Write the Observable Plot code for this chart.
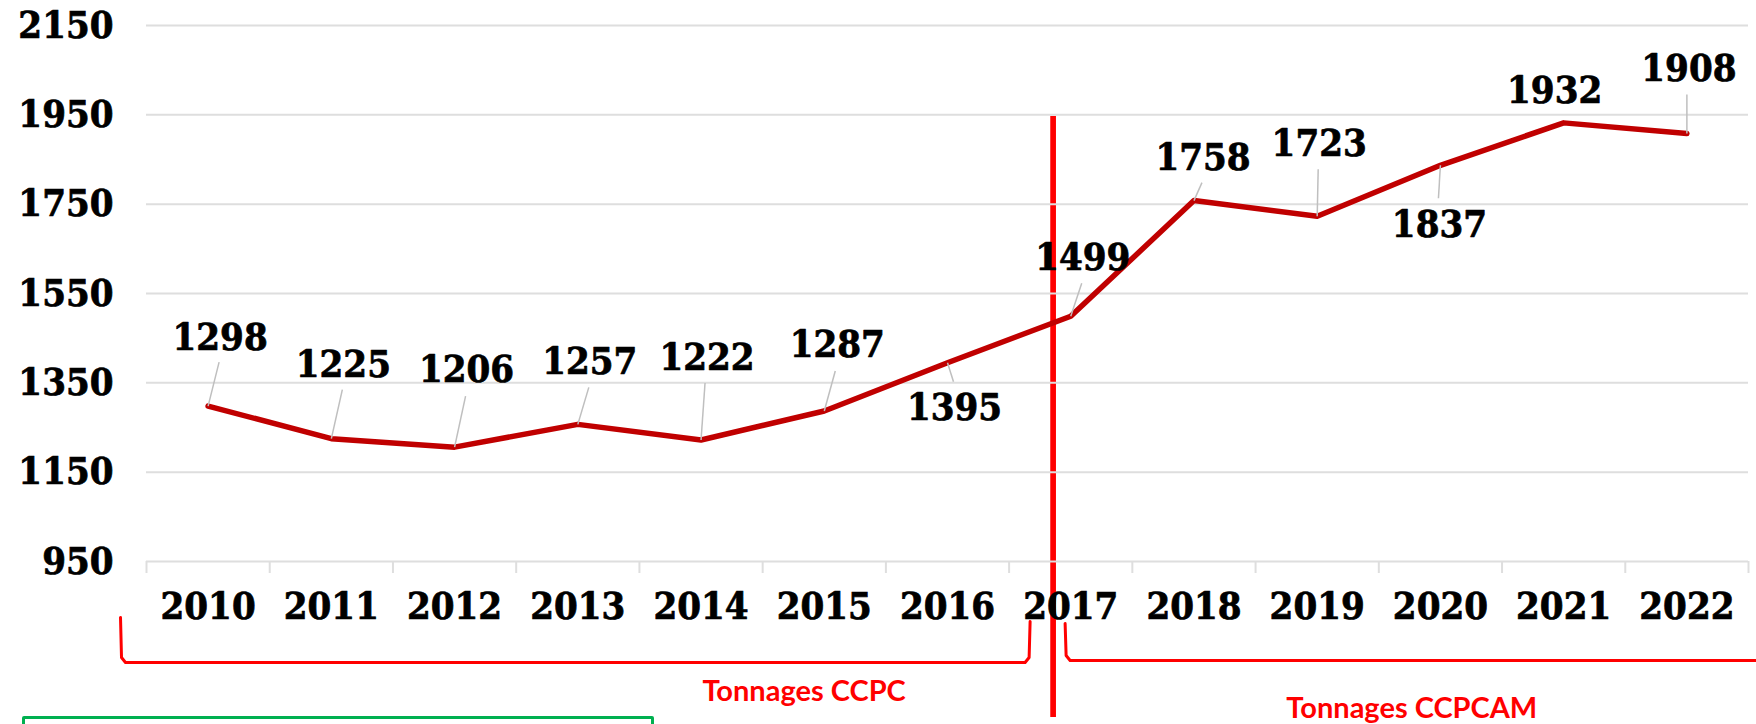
<!DOCTYPE html>
<html>
<head>
<meta charset="utf-8">
<script src="https://cdn.jsdelivr.net/npm/d3@7"></script>
<script src="https://cdn.jsdelivr.net/npm/@observablehq/plot@0.6"></script>
<style>
html, body { margin: 0; padding: 0; background: #fff; overflow: hidden; width: 1756px; height: 724px; }
#chart { position: absolute; left: 0; top: 0; }
#box { position: absolute; left: 22px; top: 716px; width: 626px; height: 40px; border: 3px solid #00B050; border-radius: 2px; }
#chart svg text { font-stretch: condensed; }
#chart svg g[aria-label$="tick label"] text { stroke: #000; stroke-width: 0.7px; }
</style>
</head>
<body>
<div id="chart"></div>
<div id="box"></div>
<script>
// ---- data ----
const years = [2010, 2011, 2012, 2013, 2014, 2015, 2016, 2017, 2018, 2019, 2020, 2021, 2022];
const values = [1298, 1225, 1206, 1257, 1222, 1287, 1395, 1499, 1758, 1723, 1837, 1932, 1908];
const yTicks = [950, 1150, 1350, 1550, 1750, 1950, 2150];
const groupLabels = ["Tonnages CCPC", "Tonnages CCPCAM"];

// ---- layout (pixel offsets for labels and leader lines) ----
const labelDx = [12, 12, 12, 12, 6, 13, 7, 12, 9, 2, -1, -9, 2];
const labelDy = [-68, -74, -77, -63, -82, -66, 45, -58, -43, -72, 60, -32, -65];
const leaderDx = [11, 11, 11, 11, 4, 11, 6, 11, 8, 1, -2, 0, 0];
const leaderDy = [-44, -49, -51, -37, -57, -40, 19, -33, -18, -47, 33, 0, -39];

const W = 1756, H = 724, ML = 146, MR = 8, MT = 25, MB = 163;
const X0 = 2009.5, X1 = 2022.5, Y0 = 950, Y1 = 2150;
const pxX = (W - ML - MR) / (X1 - X0);
const pxY = (H - MT - MB) / (Y1 - Y0);
const below = p => Y0 - p / pxY;          // value that sits p px below the axis
const xs = (yr, p) => yr + p / pxX;       // year shifted by p px

const data = years.map((year, i) => ({
  year, value: values[i],
  lx: xs(year, labelDx[i]), ly: values[i] - labelDy[i] / pxY,
  kx: xs(year, leaderDx[i]), ky: values[i] - leaderDy[i] / pxY,
  leader: leaderDx[i] !== 0 || leaderDy[i] !== 0
}));

const boundaries = d3.range(X0, X1 + 0.01, 1);
const dividerYear = xs(2016.5, 44);

// brackets under the axis
function bracket(g, xa, xb, topA, topB, bottom, openRight) {
  const pts = [
    {g, x: xa, y: below(topA)},
    {g, x: xs(xa, 1), y: below(bottom - 5)},
    {g, x: xs(xa, 5), y: below(bottom)}
  ];
  if (openRight) {
    pts.push({g, x: xs(X1, 20), y: below(bottom)});
  } else {
    pts.push({g, x: xs(xb, -5), y: below(bottom)});
    pts.push({g, x: xs(xb, -1), y: below(bottom - 5)});
    pts.push({g, x: xb, y: below(topB)});
  }
  return pts;
}
const bracketPts = [
  ...bracket(groupLabels[0], xs(2009.5, -26), xs(2016.5, 21), 56, 60, 101, false),
  ...bracket(groupLabels[1], xs(2016.5, 56), null, 62, 0, 99, true)
];
const groupText = [
  {text: groupLabels[0], x: xs(2016.5, -205), y: below(130)},
  {text: groupLabels[1], x: xs(2019.5, 33), y: below(147)}
];

const serif = "DejaVu Serif Condensed, DejaVu Serif";
const FS = 38;
const plot = Plot.plot({
  width: W, height: H,
  marginLeft: ML, marginRight: MR, marginTop: MT, marginBottom: MB,
  x: {type: "linear", domain: [X0, X1]},
  y: {type: "linear", domain: [Y0, Y1]},
  style: {fontFamily: serif, fontSize: FS + "px", fontWeight: "bold", color: "#000", background: "#fff", overflow: "visible"},
  marks: [
    Plot.ruleX([dividerYear], {x: d => d, y1: 1946, y2: below(156), stroke: "#ff0000", strokeWidth: 5.7}),
    Plot.gridY(yTicks, {stroke: "#dedede", strokeOpacity: 1, strokeWidth: 2}),
    Plot.ruleX(boundaries, {x: d => d, y1: Y0, y2: below(12), stroke: "#dedede", strokeWidth: 2}),
    Plot.line(data, {x: "year", y: "value", stroke: "#c00000", strokeWidth: 5.5, strokeLinejoin: "round", strokeLinecap: "round"}),
    Plot.link(data.filter(d => d.leader), {x1: "year", y1: "value", x2: "kx", y2: "ky", stroke: "#bfbfbf", strokeWidth: 1.5}),
    Plot.text(data, {x: "lx", y: "ly", text: d => String(d.value), fontFamily: serif, fontSize: FS, fontWeight: "bold", fill: "#000", stroke: "#000", strokeWidth: 0.7}),
    Plot.axisY({ticks: yTicks, tickFormat: d => String(d), tickSize: 0, tickPadding: 33, fontFamily: serif, fontSize: FS, fontWeight: "bold", label: null}),
    Plot.axisX({ticks: years, tickFormat: d => String(d), tickSize: 0, tickPadding: 31, fontFamily: serif, fontSize: FS, fontWeight: "bold", label: null}),
    Plot.line(bracketPts, {x: "x", y: "y", z: "g", stroke: "#ff0000", strokeWidth: 3, strokeLinejoin: "round"}),
    Plot.text(groupText, {x: "x", y: "y", text: "text", fill: "#ff0000", fontFamily: "Lato", fontSize: 29, fontWeight: "bold"})
  ]
});
document.getElementById("chart").appendChild(plot);
</script>
</body>
</html>
